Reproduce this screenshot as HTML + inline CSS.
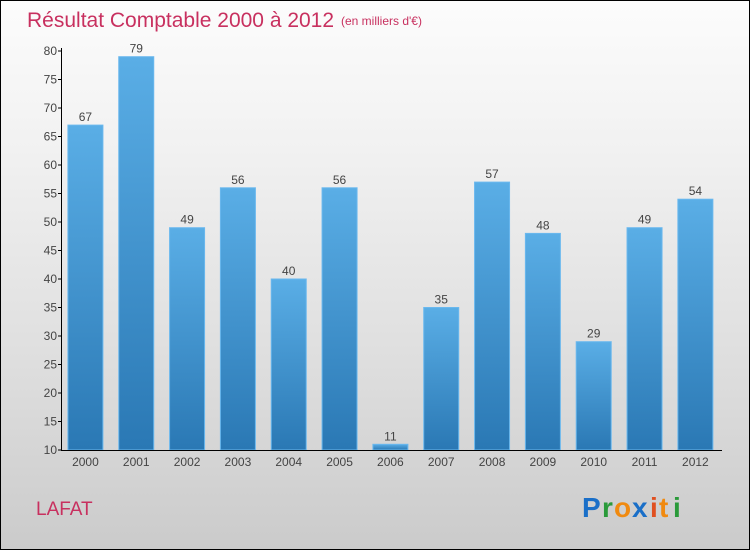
<!DOCTYPE html>
<html><head><meta charset="utf-8"><style>
body{margin:0}
#c{width:750px;height:550px;position:relative;overflow:hidden;box-sizing:border-box;border:1px solid #000;background:linear-gradient(#fcfcfc,#f2f2f2 25%,#dcdcdc 70%,#cbcbcb);font-family:"Liberation Sans",sans-serif}
</style></head><body>
<div id="c">
<svg width="750" height="550" style="position:absolute;left:-1px;top:-1px" id="s">
<defs><linearGradient id="g" x1="0" y1="0" x2="0" y2="1"><stop offset="0" stop-color="#5aaee6"/><stop offset="1" stop-color="#2a78b4"/></linearGradient></defs>
<text x="27" y="27" font-size="21" fill="#c8305f">Résultat Comptable 2000 à 2012</text>
<text x="341" y="25" font-size="12" fill="#c8305f">(en milliers d'€)</text>
<text x="36" y="515" font-size="19" fill="#c8305f">LAFAT</text>
<g font-size="28" font-weight="bold" font-family="Liberation Sans,sans-serif">
<text x="582" y="517" fill="#1a6fc8">P</text><text x="602" y="517" fill="#2a9a3a">r</text><text x="614" y="517" fill="#f08a10">o</text><text x="632" y="517" fill="#1a6fc8">x</text><text x="650" y="517" fill="#e05020">i</text><text x="659" y="517" fill="#f08a10">t</text><text x="673" y="517" fill="#2a9a3a">i</text></g>
<g id="plot"></g>
</svg>
</div>
<script>
const categories=["2000","2001","2002","2003","2004","2005","2006","2007","2008","2009","2010","2011","2012"];
const values=[67,79,49,56,40,56,11,35,57,48,29,49,54];
const yTicks=[10,15,20,25,30,35,40,45,50,55,60,65,70,75,80];
const NS="http://www.w3.org/2000/svg";
const g=document.getElementById('plot');
const y=v=>450-(v-10)*(399/70);
const band=50.83,x0=60;
const x=i=>x0+band*i+band/2;
function mk(t,a){const e=document.createElementNS(NS,t);for(const k in a)e.setAttribute(k,a[k]);g.appendChild(e);return e;}
values.forEach((v,i)=>{
 const r=mk('rect',{x:x(i)-17.5,y:y(v),width:35,height:450-y(v),fill:'url(#g)',stroke:'#6ab8ee','stroke-width':1});
 
 
 const t=mk('text',{x:x(i),y:y(v)-4,'text-anchor':'middle','font-size':12,fill:'#444'});t.textContent=v;
 
 
 const c=mk('text',{x:x(i),y:466,'text-anchor':'middle','font-size':12,fill:'#444'});c.textContent=categories[i];
 
 
});
yTicks.forEach(v=>{
 mk('line',{x1:58,x2:62,y1:y(v),y2:y(v),stroke:'#000'});
 const t=mk('text',{x:57,y:y(v)+4,'text-anchor':'end','font-size':12,fill:'#444'});t.textContent=v;
 
 
});
const ya=mk('line',{x1:61.5,x2:61.5,y1:48,y2:450,stroke:'#000'});


const xa=mk('line',{x1:61,x2:722,y1:450.5,y2:450.5,stroke:'#000'});


</script>
</body></html>
